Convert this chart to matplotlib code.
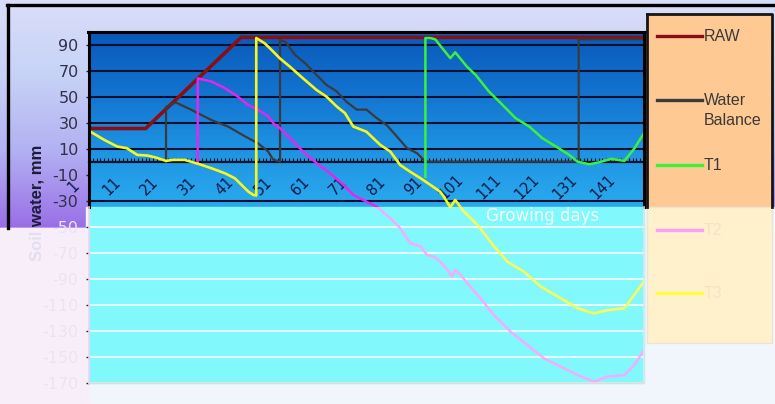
import numpy as np
import matplotlib
matplotlib.use("Agg")
import matplotlib.pyplot as plt
from matplotlib.transforms import Bbox, TransformedBbox, ScaledTranslation
from matplotlib.patches import Rectangle
from matplotlib.colors import LinearSegmentedColormap

plt.rcParams['font.family'] = ['DejaVu Sans']

# ---------------- data ----------------
raw_days = [1, 16, 41.3, 148]
raw_vals = [25.5, 25.5, 95.5, 95.5]

wb_days = [21.4, 21.4, 24, 28, 33.4, 37.8, 42.3, 45.8, 48.4, 49.8, 51.6, 51.6, 53, 55.6, 58.3,
           61.3, 63.9, 66.6, 69.2, 71.9, 74.5, 77.2, 79.9, 82.5, 85.2, 87.9, 89.2, 90, 130.7, 130.7, 148]
wb_vals = [0, 42, 45.5, 40, 32, 27, 19.5, 14, 8, 1.5, 0, 93.5, 92, 82, 75.5,
           66.5, 59, 54, 46, 40, 40, 33.5, 28, 19.5, 10.5, 6.5, 2.7, 0, 0, 94, 94]

t1_days = [90.1, 90.1, 91.4, 92.7, 94.9, 96.7, 98, 101.1, 103.4, 106.9, 110.5, 114, 117.6,
           121.1, 124.7, 128.2, 130.4, 133.5, 136.2, 139.3, 142.8, 145.5, 148]
t1_vals = [-11.5, 95, 95, 94, 86, 79.5, 84, 73, 66.7, 54, 43.7, 33.4, 27,
           18, 11.6, 5.2, 0, -2, -0.4, 2.2, 0.6, 10.4, 22]

t2_days = [29.8, 29.8, 33.4, 37, 40.4, 43.1, 45.8, 48.4, 50, 51.5, 54.2, 57.7, 61.3, 64.8, 68.4,
           71, 74.5, 77.2, 80.8, 83.4, 86.1, 88.8, 90.5, 92.3, 94.1, 95.9, 97.2, 98, 99.4, 102,
           104.7, 108.2, 112.7, 117.1, 121.5, 126, 130.4, 134.8, 138.4, 142.8, 145.5, 148]
t2_vals = [-1, 64, 61.6, 56.5, 50, 43.7, 39.8, 35, 29, 26, 18, 7.8, -1.2, -8.8, -17.8,
           -25.5, -30.7, -34.5, -43.4, -51, -62.6, -65, -71.6, -73, -76.8, -83, -88.3, -83, -87, -96,
           -105, -117.8, -130.6, -140.8, -151, -157.5, -163.9, -169, -165, -164, -156, -144.7]

t3_days = [1, 5, 8.5, 11, 13.8, 16.5, 18.7, 21.4, 23.2, 26.3, 28, 30.3, 33.4, 37, 39.6, 41.4,
           43.2, 44.5, 45.3, 45.3, 47.5, 49.3, 51.5, 54.2, 57.7, 61.3, 63.9, 66.6, 68.8, 71, 74.5,
           78.1, 80.8, 83.4, 86, 88.8, 91.4, 94, 95, 96.7, 98, 100.2, 104, 108, 111.8, 116.2,
           120.7, 126, 130.4, 134.8, 138.4, 142.8, 145.5, 148]
t3_vals = [23.7, 16.8, 11.6, 10.4, 5.2, 4.7, 3.2, 0.6, 1.4, 1.4, 0, -2, -5, -8.9, -12.7, -17.8,
           -23, -25.5, -26, 95, 91, 86, 79.5, 73, 64, 55, 50, 42.4, 37.3, 27, 23,
           13, 7.8, -2.5, -7.6, -12.7, -17.8, -23, -27, -35, -29.4, -38, -49, -64, -76.8, -84.5,
           -96, -105, -112.6, -116.5, -114, -112.6, -102, -92]

x_ticks = list(range(1, 149, 10))
x_tick_labels = [str(d) for d in x_ticks]
y_ticks = list(range(-170, 100, 20))
legend_labels = ["RAW", "Water\nBalance", "T1", "T2", "T3"]
x_title = "Growing days"
y_title = "Soil water, mm"

# ---------------- layout helpers ----------------
W, H = 775, 404
fig = plt.figure(figsize=(W / 100, H / 100), dpi=100)

PL, PR, PT, PB = 89, 644, 31.5, 383
CUT = 207      # fade boundary (plot + legend)
CUT_L = 228    # fade boundary left of plot
CUT_VAL = -34.5


def fbox(x0, y0, x1, y1):
    return TransformedBbox(Bbox.from_extents(x0 / W, 1 - y1 / H, x1 / W, 1 - y0 / H), fig.transFigure)


# background axes in pixel coordinates
bg = fig.add_axes([0, 0, 1, 1], zorder=-5)
bg.set_xlim(0, W); bg.set_ylim(H, 0); bg.axis('off')

cm_fig = LinearSegmentedColormap.from_list('f', ['#DADEF9', '#C6D2F6', '#B2B0F2', '#9A6EE6'])
bg.imshow(np.linspace(0, 1, 256)[:, None], cmap=cm_fig, extent=[0, W, CUT_L, 0], aspect='auto', zorder=0)
bg.add_patch(Rectangle((0, CUT_L), W, H - CUT_L, color='#F1F6FD', zorder=1))
bg.add_patch(Rectangle((0, CUT_L), PL, H - CUT_L, color='#F8EEF9', zorder=1))
bg.add_patch(Rectangle((86, CUT), W - 86, CUT_L - CUT, color='#EEF8FE', zorder=1))

cm_plot = LinearSegmentedColormap.from_list('p', ['#0A58BA', '#1272CE', '#1E92E2', '#2AAAEE'])
bg.imshow(np.linspace(0, 1, 256)[:, None], cmap=cm_plot, extent=[PL, PR, CUT, PT], aspect='auto', zorder=2)
bg.add_patch(Rectangle((PL, CUT), PR - PL, PB - CUT, color='#80F8FC', zorder=2))

# legend box
bg.add_patch(Rectangle((647, 14), 125, CUT - 14, color='#FFC994', zorder=2))
bg.add_patch(Rectangle((647, CUT), 125, 343 - CUT, fc='#FFF1CC', ec='#EDE3CF', lw=1, zorder=2))
bg.set_xlim(0, W); bg.set_ylim(H, 0)

# ---------------- main axes ----------------
ax = fig.add_axes([PL / W, 1 - PB / H, (PR - PL) / W, (PB - PT) / H], zorder=1)
ax.set_facecolor('none')
ax.set_xlim(1, 148)
ax.set_ylim(-170, 100)

BOX_UP = fbox(PL, PT - 2, PR, CUT)
BOX_LO = fbox(PL, CUT, PR, PB)

for v in y_ticks:
    if v == -10:
        continue
    if v > CUT_VAL:
        ax.axhline(v, color='#081030', lw=1.5, zorder=1)
    else:
        ax.axhline(v, color='#E4FEFF', lw=1.5, zorder=1)


def split_plot(x, y, c_up, c_lo, lw):
    l1, = ax.plot(x, y, color=c_up, lw=lw, zorder=3, solid_joinstyle='round')
    l1.set_clip_box(BOX_UP)
    l2, = ax.plot(x, y, color=c_lo, lw=lw, zorder=3, solid_joinstyle='round')
    l2.set_clip_box(BOX_LO)


split_plot(raw_days, raw_vals, '#8A0E12', '#E6A0A0', 2.6)
split_plot(wb_days, wb_vals, '#3A3A3E', '#B0B0B0', 1.6)
split_plot(t1_days, t1_vals, '#3CF03C', '#A0FFA0', 1.8)
split_plot(t2_days, t2_vals, '#F020F0', '#FFA6FF', 1.7)
split_plot(t3_days, t3_vals, '#F6F620', '#FAFA5A', 1.9)

for s in ['top', 'left', 'right']:
    ax.spines[s].set_visible(False)
ax.spines['bottom'].set_position(('data', 0))
ax.spines['bottom'].set_color('#0A1228')
ax.spines['bottom'].set_linewidth(1.6)

ax.set_xticks(x_ticks)
ax.set_xticks(list(range(1, 149)), minor=True)
ax.tick_params(axis='x', which='both', direction='in', length=3.2, width=0.8, color='#0A1228')
ax.tick_params(axis='x', which='major', pad=0, labelsize=10.5, labelcolor='#0C1A48')
ax.set_xticklabels(x_tick_labels, rotation=45, rotation_mode='anchor', ha='center', va='center')
for lbl in ax.get_xticklabels():
    lbl.set_transform(lbl.get_transform() + ScaledTranslation(-0.15, -0.25, fig.dpi_scale_trans))

ax.set_yticks(y_ticks)
ax.set_yticklabels([str(v) for v in y_ticks])
ax.tick_params(axis='y', direction='out', length=2.5, width=1, pad=5, labelsize=11.5,
               labelcolor='#30304A', color='#20203A')
for v, tk in zip(y_ticks, ax.yaxis.get_major_ticks()):
    if v < CUT_VAL:
        tk.label1.set_color('#E8E4F4')
        tk.tick1line.set_color('#F0C8E8')

ax.set_xlabel(x_title, fontsize=12, color='#F2FFFF')
ax.xaxis.set_label_coords((543 - PL) / (PR - PL), (PB - 216) / (PB - PT))
ax.xaxis.label.set_va('center')

# y title, split dark / faded
for color, box in [('#1C1C3A', fbox(0, 0, W, CUT_L)), ('#E2DEF0', fbox(0, CUT_L, W, H))]:
    t = fig.text(37 / W, 1 - 203 / H, y_title, rotation=90, ha='center', va='center',
                 fontsize=12, fontweight='bold', color=color, family='Liberation Sans')
    t.set_clip_box(box)

# ---------------- overlay: frames and legend ----------------
ov = fig.add_axes([0, 0, 1, 1], zorder=3)
ov.set_xlim(0, W); ov.set_ylim(H, 0); ov.axis('off'); ov.set_facecolor('none')

ov.plot([PL - 1, PR + 1], [PT, PT], color='black', lw=2.2)
ov.plot([PL, PL], [PT, CUT], color='black', lw=2.2)
ov.plot([PR, PR], [PT, CUT], color='black', lw=2.2)
ov.plot([PL, PL], [CUT, PB], color='#F4D2EE', lw=1.2)
ov.plot([PR, PR], [CUT, PB], color='#E2E6EC', lw=1.2)
ov.plot([PL, PR], [PB, PB], color='#DEDEDE', lw=1.2)

ov.plot([7, W], [5, 5], color='black', lw=2.4)
ov.plot([8, 8], [5, CUT_L], color='black', lw=2.4)
ov.plot([647, 772, 772], [14, 14, CUT], color='#151515', lw=2)
ov.plot([647, 647], [14, CUT], color='#151515', lw=2)

leg_colors = ['#8A0E12', '#3A3A3E', '#3CF03C', '#FF9CFF', '#FFFF40']
leg_text_colors = ['#3A3A3A', '#3A3A3A', '#3A3A3A', '#F6E2C6', '#F6E2C6']
leg_y = [36, 100, 165, 230, 293]
for lab, c, tc, y in zip(legend_labels, leg_colors, leg_text_colors, leg_y):
    ov.plot([657, 702], [y, y], color=c, lw=2.4)
    ov.text(704, y - 7, lab, ha='left', va='top', fontsize=11.5, color=tc,
            family='Liberation Sans', linespacing=1.45)

fig.savefig('out.png', dpi=100)
